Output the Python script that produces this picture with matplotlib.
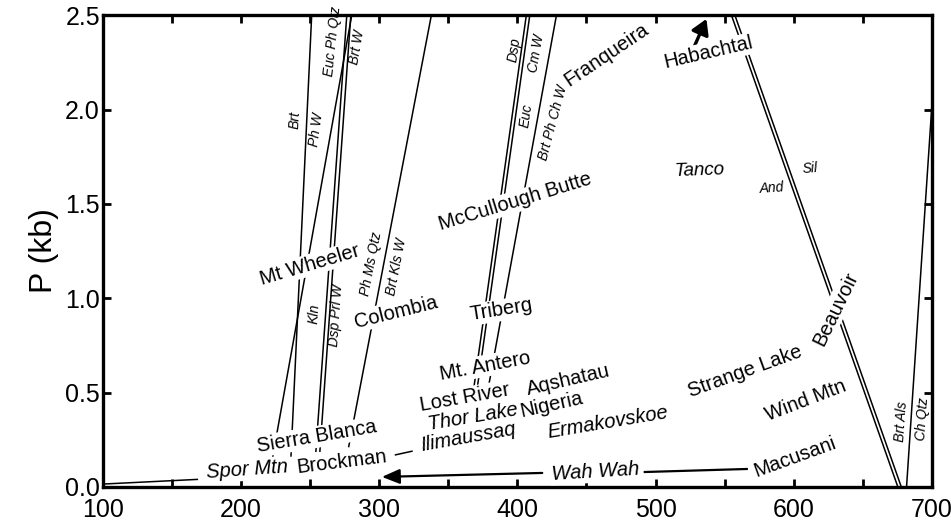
import numpy as np
import matplotlib
matplotlib.use("Agg")
import matplotlib.pyplot as plt
from matplotlib.ticker import FixedLocator, NullFormatter

plt.rcParams['font.family'] = ['Liberation Sans', 'DejaVu Sans']

# single reaction lines, end points (T in C, P in kb)
brt_T = [251.2, 236.2]
brt_P = [2.5, 0.16]
phw_T = [280.2, 223.0]
phw_P = [2.5, 0.16]
phms_T = [337.8, 277.9]
phms_P = [2.5, 0.21]
brtph_T = [428.3, 376.1]
brtph_P = [2.5, 0.41]
brtals_T = [700.0, 681.6]
brtals_P = [2.03, 0.0]

# double lines
eucph_T = [276.6, 254.2]
eucph2_T = [279.5, 257.1]
eucph_P = [2.5, 0.185]
dsp_T = [406.5, 366.3]
dsp2_T = [409.0, 368.8]
dsp_P = [2.5, 0.41]
andsil_T = [554.9, 675.3]
andsil2_T = [557.4, 677.8]
andsil_P = [2.5, 0.0]

# short segments and arrows
spor_T = [100, 169]
spor_P = [0.015, 0.04]
brock_T = [311.3, 324.3]
brock_P = [0.169, 0.19]
wah_left_T = [418, 302]
wah_left_P = [0.074, 0.053]
wah_right_T = [492.2, 566.0]
wah_right_P = [0.079, 0.095]
hab_T = [528.4, 536.8]
hab_P = [2.34, 2.48]

# deposit names
names = ["Spor Mtn", "Brockman", "Sierra Blanca", "Colombia", "Mt Wheeler",
         "McCullough Butte", "Triberg", "Mt. Antero", "Lost River", "Thor Lake",
         "Ilimaussaq", "Nigeria", "Aqshatau", "Ermakovskoe", "Wah Wah",
         "Macusani", "Wind Mtn", "Strange Lake", "Beauvoir", "Tanco",
         "Franqueira", "Habachtal"]
name_T = [204.2, 272.9, 254.8, 312.0, 249.8, 398.1, 388.7, 376.4, 361.9, 367.7,
          364.1, 424.9, 436.5, 465.4, 456.7, 600.7, 608.7, 564.5, 630.4, 531.3,
          464.7, 538.5]
name_P = [0.09, 0.132, 0.265, 0.927, 1.176, 1.51, 0.937, 0.641, 0.471, 0.37,
          0.265, 0.434, 0.567, 0.344, 0.08, 0.159, 0.455, 0.614, 0.943, 1.674,
          2.288, 2.30]
name_rot = [4, 7, 9.5, 14, 16.5, 17, 9, 10.5, 10, 9.5,
            10, 12.5, 13, 9.5, 3.5, 20, 21, 20, 64, 2,
            34, 13]
italic_names = ["Spor Mtn", "Thor Lake", "Ilimaussaq", "Ermakovskoe", "Wah Wah", "Tanco"]

# mineral assemblage labels
phases = ["Brt", "Ph W", "Euc Ph Qtz", "Brt W", "Kln", "Dsp Prl W", "Ph Ms Qtz",
          "Brt Kls W", "Dsp", "Cm W", "Euc", "Brt Ph Ch W", "And", "Sil",
          "Brt Als", "Ch Qtz"]
phase_T = [238.9, 254.6, 266.4, 284.0, 253.4, 269.3, 294.6, 312.7, 398.1, 414.0,
           406.8, 425.6, 583.9, 611.6, 678.1, 693.3]
phase_P = [1.944, 1.896, 2.36, 2.33, 0.92, 0.911, 1.18, 1.165, 2.315, 2.30,
           1.97, 1.933, 1.584, 1.69, 0.344, 0.36]
phase_rot = [87, 82, 84, 80, 86, 86, 79, 79, 82, 80, 82, 75, 4, 4, 86, 86]

fig = plt.figure(figsize=(9.51, 5.23), dpi=100)
ax = fig.add_axes([0.108, 0.069, 0.872, 0.902])

for T, P in [(brt_T, brt_P), (phw_T, phw_P), (phms_T, phms_P), (brtph_T, brtph_P),
             (brtals_T, brtals_P), (eucph_T, eucph_P), (eucph2_T, eucph_P),
             (dsp_T, dsp_P), (dsp2_T, dsp_P), (andsil_T, andsil_P), (andsil2_T, andsil_P),
             (spor_T, spor_P), (brock_T, brock_P)]:
    ax.plot(T, P, color='black', lw=1.1, zorder=2, solid_capstyle='butt')

ax.plot(wah_right_T, wah_right_P, color='black', lw=1.6, zorder=2)
ax.annotate("", xy=(wah_left_T[1], wah_left_P[1]), xytext=(wah_left_T[0], wah_left_P[0]),
            arrowprops=dict(arrowstyle='-|>,head_length=0.6,head_width=0.25',
                            mutation_scale=18, lw=1.6, color='black',
                            shrinkA=0, shrinkB=0), zorder=2)
ax.annotate("", xy=(hab_T[1], hab_P[1]), xytext=(hab_T[0], hab_P[0]),
            arrowprops=dict(arrowstyle='-|>,head_length=0.5,head_width=0.3',
                            mutation_scale=18, lw=2.4, color='black',
                            shrinkA=0, shrinkB=0), zorder=2)

for name, T, P, r in zip(names, name_T, name_P, name_rot):
    size = 13.5 if name == "Tanco" else 14.5
    style = 'italic' if name in italic_names else 'normal'
    ax.text(T, P, name, rotation=r, rotation_mode='anchor', ha='center', va='center',
            fontsize=size, style=style, zorder=4,
            bbox=dict(facecolor='white', edgecolor='none', pad=1.0))

for name, T, P, r in zip(phases, phase_T, phase_P, phase_rot):
    ax.text(T, P, name, rotation=r, rotation_mode='anchor', ha='center', va='center',
            fontsize=10, style='italic', zorder=5)

ax.set_xlim(100, 700)
ax.set_ylim(0, 2.5)
ax.xaxis.set_major_locator(FixedLocator([100, 200, 300, 400, 500, 600, 700]))
ax.xaxis.set_minor_locator(FixedLocator([150, 250, 350, 450, 550, 650]))
ax.xaxis.set_minor_formatter(NullFormatter())
ax.set_yticks([0.0, 0.5, 1.0, 1.5, 2.0, 2.5])
ax.set_yticklabels(["0.0", "0.5", "1.0", "1.5", "2.0", "2.5"])
ax.tick_params(which='both', direction='in', top=True, right=True,
               length=6, width=2.0, labelsize=18)
ax.tick_params(axis='x', pad=8)
ax.tick_params(axis='y', pad=2)
for s in ax.spines.values():
    s.set_linewidth(2.4)
ax.set_ylabel("P (kb)", fontsize=23, labelpad=4)

fig.savefig("out.png", dpi=100)
